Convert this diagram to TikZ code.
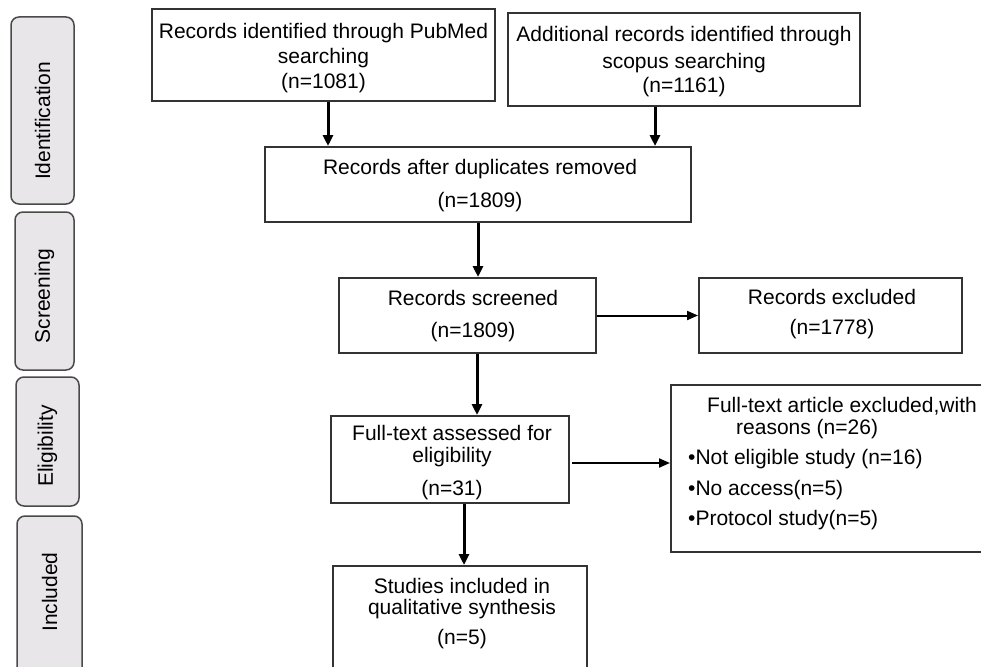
\documentclass[tikz,border=0pt]{standalone}
\usepackage{fontspec}
\setmainfont{Liberation Sans}
\usetikzlibrary{arrows.meta,calc}
\definecolor{sidefill}{HTML}{E8E6E8}
\definecolor{sideline}{HTML}{4A4A4A}
\definecolor{boxline}{HTML}{333333}
\begin{document}
\begin{tikzpicture}[x=1pt,y=-1pt,
  box/.style={draw=boxline, line width=2pt, fill=white, inner sep=0pt},
  side/.style={draw=sideline, fill=sidefill, line width=1.5pt, rounded corners=8pt, inner sep=0pt},
  txt/.style={font=\fontsize{21}{25}\selectfont, inner sep=0pt, anchor=base},
  ltxt/.style={font=\fontsize{21}{25}\selectfont, inner sep=0pt, anchor=base west},
  vtxt/.style={font=\fontsize{21}{25}\selectfont, inner sep=0pt, rotate=90},
  varr/.style={line width=3pt, -{Triangle[length=11pt,width=10pt]}},
  harr/.style={line width=2pt, -{Triangle[length=11pt,width=9pt]}}]
\useasboundingbox (0,0) rectangle (981,666);
\fill[white] (0,0) rectangle (981,666);
\clip (0,0) rectangle (981,666);

% side labels
\node[side, minimum width=63pt, minimum height=187pt] (s1) at (42.5,110.5) {};
\node[side, minimum width=59pt, minimum height=158pt] (s2) at (44.5,291) {};
\node[side, minimum width=63pt, minimum height=129pt] (s3) at (47.5,441.5) {};
\node[side, minimum width=65pt, minimum height=174pt] (s4) at (49.5,603) {};
\node[vtxt] (s1t) at (42.5,121) {Identification};
\node[vtxt] (s2t) at (44.5,296) {Screening};
\node[vtxt] (s3t) at (47.5,446) {Eligibility};
\node[vtxt] (s4t) at (49.5,592) {Included};

% boxes
\node[box, minimum width=343pt, minimum height=92pt] (b1) at (323.5,55) {};
\node[box, minimum width=352pt, minimum height=93pt] (b2) at (684,59.5) {};
\node[box, minimum width=426pt, minimum height=75pt] (b3) at (478,184.5) {};
\node[box, minimum width=257pt, minimum height=75pt] (sc) at (467.5,315.5) {};
\node[box, minimum width=263pt, minimum height=75pt] (ex) at (830.5,315.5) {};
\node[box, minimum width=238pt, minimum height=87pt] (ft) at (450,459.5) {};
\node[box, minimum width=324pt, minimum height=167pt] (rs) at (833,468.5) {};
\node[box, minimum width=254pt, minimum height=124pt] (st) at (460,628) {};

% texts
\node[txt] (b1a) at (323.5,39) {Records identified through PubMed};
\node[txt] (b1b) at (323.5,64) {searching};
\node[txt] (b1c) at (323.5,89) {(n=1081)};
\node[txt] (b2a) at (684,42) {Additional records identified through};
\node[txt] (b2b) at (684,69) {scopus searching};
\node[txt] (b2c) at (684,93) {(n=1161)};
\node[txt] (b3a) at (480,174) {Records after duplicates removed};
\node[txt] (b3b) at (480,207) {(n=1809)};
\node[txt] (sca) at (473,305) {Records screened};
\node[txt] (scb) at (473,337) {(n=1809)};
\node[txt] (exa) at (832,304) {Records excluded};
\node[txt] (exb) at (832,334) {(n=1778)};
\node[txt] (fta) at (452,440) {Full-text assessed for};
\node[txt] (ftb) at (452,462) {eligibility};
\node[txt] (ftc) at (452,495) {(n=31)};
\node[txt] (sta) at (462,593) {Studies included in};
\node[txt] (stb) at (462,614) {qualitative synthesis};
\node[txt] (stc) at (462,644) {(n=5)};
\node[ltxt] (rsa) at (707,412) {Full-text article excluded,with};
\node[ltxt] (rsb) at (736,434) {reasons (n=26)};
\node[ltxt] (rsc) at (688,464) {•Not eligible study (n=16)};
\node[ltxt] (rsd) at (688,495) {•No access(n=5)};
\node[ltxt] (rse) at (688,525) {•Protocol study(n=5)};

% connectors
\coordinate (a1) at ($(b1.south)+(4.5,0)$);
\coordinate (a2) at ($(b2.south)+(-29,0)$);
\coordinate (a4) at ($(sc.south)+(9.5,0)$);
\coordinate (a5) at ($(ft.south)+(14,0)$);
\coordinate (a6) at ($(ft.east)+(2,3.5)$);
\draw[varr] (a1) -- (a1 |- b3.north);
\draw[varr] (a2) -- (a2 |- b3.north);
\draw[varr] (b3.south) -- (b3.south |- sc.north);
\draw[varr] (a4) -- (a4 |- ft.north);
\draw[varr] (a5) -- (a5 |- st.north);
\draw[harr] (sc.east) -- (ex.west);
\draw[harr] (a6) -- (a6 -| rs.west);
\end{tikzpicture}
\end{document}
